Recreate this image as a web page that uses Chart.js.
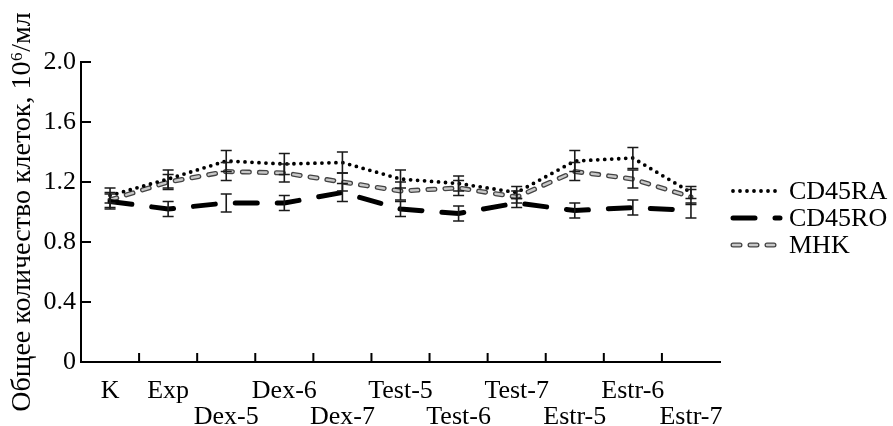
<!DOCTYPE html>
<html>
<head>
<meta charset="utf-8">
<script src="https://cdn.jsdelivr.net/npm/chart.js@4/dist/chart.umd.min.js"></script>
<style>
  html, body { margin: 0; padding: 0; background: #fff; }
  .fontprobe { font-family: "Liberation Serif", "Times New Roman", serif; position: absolute; left: -999px; top: 0; }
</style>
</head>
<body>
<span class="fontprobe">CD45RA Общее 0.4</span>
<canvas id="cellChart" width="893" height="426"></canvas>
<script>
// values
var categories = ['K', 'Exp', 'Dex-5', 'Dex-6', 'Dex-7', 'Test-5', 'Test-6', 'Test-7', 'Estr-5', 'Estr-6', 'Estr-7'];
var cd45ra    = [1.11, 1.22, 1.34, 1.32, 1.33, 1.22, 1.19, 1.13, 1.34, 1.36, 1.13];
var cd45raErr = [0.05, 0.06, 0.07, 0.07, 0.07, 0.06, 0.05, 0.04, 0.07, 0.07, 0.04];
var cd45ro    = [1.07, 1.02, 1.06, 1.06, 1.13, 1.02, 0.99, 1.06, 1.01, 1.03, 1.01];
var cd45roErr = [0.05, 0.05, 0.06, 0.05, 0.06, 0.05, 0.05, 0.03, 0.05, 0.05, 0.05];
var mhk       = [1.08, 1.20, 1.27, 1.26, 1.20, 1.14, 1.16, 1.10, 1.27, 1.22, 1.10];
var mhkErr    = [0.05, 0.05, 0.06, 0.06, 0.06, 0.06, 0.05, 0.04, 0.06, 0.06, 0.05];
var yTicks    = [0, 0.4, 0.8, 1.2, 1.6, 2.0];

var FONT = '"Liberation Serif", "Times New Roman", serif';

// error bars drawn on the library's scales
var errorBars = {
    id: 'errorBars',
    afterDatasetsDraw: function (chart) {
        var ctx = chart.ctx;
        var xs = chart.scales.x, ys = chart.scales.y;
        var sets = [[cd45ra, cd45raErr], [mhk, mhkErr], [cd45ro, cd45roErr]];
        ctx.save();
        ctx.strokeStyle = '#1a1a1a';
        ctx.lineWidth = 1.6;
        sets.forEach(function (s) {
            s[0].forEach(function (v, i) {
                var x = xs.getPixelForValue(i);
                var y1 = ys.getPixelForValue(v + s[1][i]);
                var y2 = ys.getPixelForValue(v - s[1][i]);
                ctx.beginPath();
                ctx.moveTo(x, y1); ctx.lineTo(x, y2);
                ctx.moveTo(x - 5.5, y1); ctx.lineTo(x + 5.5, y1);
                ctx.moveTo(x - 5.5, y2); ctx.lineTo(x + 5.5, y2);
                ctx.stroke();
            });
        });
        ctx.restore();
    }
};

// tick marks pointing into the plot
var innerTicks = {
    id: 'innerTicks',
    afterDraw: function (chart) {
        var ctx = chart.ctx;
        var xs = chart.scales.x, ys = chart.scales.y;
        var area = chart.chartArea;
        var step = (xs.right - xs.left) / categories.length;
        ctx.save();
        ctx.strokeStyle = '#000';
        ctx.lineWidth = 2;
        ctx.beginPath();
        for (var i = 1; i < categories.length; i++) {
            var x = xs.left + step * i;
            ctx.moveTo(x, area.bottom);
            ctx.lineTo(x, area.bottom - 9);
        }
        yTicks.forEach(function (t) {
            if (t === 0) return;
            var y = ys.getPixelForValue(t);
            ctx.moveTo(area.left, y);
            ctx.lineTo(area.left + 10, y);
        });
        ctx.stroke();
        ctx.restore();
    }
};

// legend on the right, samples styled like the lines
var sideLegend = {
    id: 'sideLegend',
    afterDraw: function (chart) {
        var ctx = chart.ctx;
        var items = [
            { text: 'CD45RA', strokes: [{ c: '#000', w: 3.8, d: [0, 7] }] },
            { text: 'CD45RO', strokes: [{ c: '#000', w: 5, d: [22, 20] }] },
            { text: 'MHK', strokes: [{ c: '#444', w: 5, d: [7, 10] }, { c: '#c8c8c8', w: 2.4, d: [7, 10] }] }
        ];
        ctx.save();
        ctx.font = '26px ' + FONT;
        ctx.textBaseline = 'middle';
        ctx.fillStyle = '#000';
        items.forEach(function (it, k) {
            var y = 191 + k * 27;
            it.strokes.forEach(function (s) {
                ctx.beginPath();
                ctx.strokeStyle = s.c;
                ctx.lineWidth = s.w;
                ctx.lineCap = 'round';
                ctx.setLineDash(s.d);
                ctx.moveTo(733, y);
                ctx.lineTo(780, y);
                ctx.stroke();
            });
            ctx.setLineDash([]);
            ctx.fillText(it.text, 789, y + 1);
        });
        ctx.restore();
    }
};

new Chart(document.getElementById('cellChart').getContext('2d'), {
    type: 'line',
    data: {
        labels: categories,
        datasets: [
            {
                label: 'CD45RA',
                data: cd45ra,
                borderColor: '#000',
                borderWidth: 3.8,
                borderDash: [0, 7],
                borderCapStyle: 'round',
                pointRadius: 0,
                tension: 0
            },
            {
                label: 'CD45RO',
                data: cd45ro,
                borderColor: '#000',
                borderWidth: 5,
                borderDash: [22, 20],
                borderCapStyle: 'round',
                pointRadius: 0,
                tension: 0
            },
            {
                label: 'MHK',
                data: mhk,
                borderColor: '#c8c8c8',
                borderWidth: 2.4,
                borderDash: [7, 10],
                borderCapStyle: 'round',
                pointRadius: 0,
                tension: 0
            },
            {
                label: 'MHK outline',
                data: mhk,
                borderColor: '#444',
                borderWidth: 5,
                borderDash: [7, 10],
                borderCapStyle: 'round',
                pointRadius: 0,
                tension: 0
            }
        ]
    },
    options: {
        responsive: false,
        animation: false,
        font: { family: FONT },
        layout: { padding: { top: 62, right: 173, left: 0, bottom: 0 } },
        plugins: {
            legend: { display: false },
            tooltip: { enabled: false }
        },
        scales: {
            x: {
                offset: true,
                grid: { drawOnChartArea: false, drawTicks: false, offset: true },
                border: { display: true, color: '#000', width: 2 },
                ticks: {
                    autoSkip: false,
                    maxRotation: 0,
                    padding: 16,
                    color: '#000',
                    font: { family: FONT, size: 26, lineHeight: 1.0 },
                    callback: function (v, i) {
                        var lab = categories[i];
                        return (i >= 2 && i % 2 === 0) ? ['', lab] : lab;
                    }
                },
                afterFit: function (s) { s.height = 64; }
            },
            y: {
                min: 0,
                max: 2.0,
                grid: { drawOnChartArea: false, drawTicks: false },
                border: { display: true, color: '#000', width: 2 },
                afterBuildTicks: function (s) {
                    s.ticks = yTicks.map(function (t) { return { value: t }; });
                },
                ticks: {
                    padding: 5,
                    color: '#000',
                    font: { family: FONT, size: 26 },
                    callback: function (v) { return v === 0 ? '0' : v.toFixed(1); }
                },
                title: {
                    display: true,
                    text: 'Общее количество клеток, 10⁶/мл',
                    color: '#000',
                    font: { family: FONT, size: 28 },
                    padding: { top: 6, bottom: 0 }
                },
                afterFit: function (s) { s.width = 81; }
            }
        }
    },
    plugins: [errorBars, innerTicks, sideLegend]
});
</script>
</body>
</html>
